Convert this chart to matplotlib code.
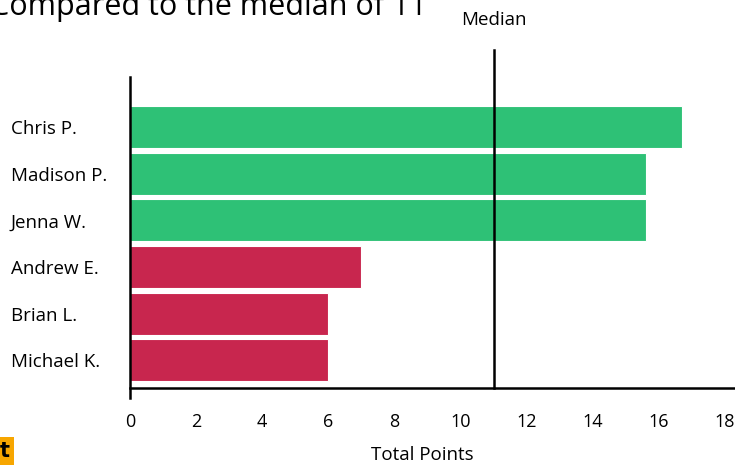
import matplotlib.pyplot as plt
import numpy as np

# data (top to bottom)
players = ["Chris P.", "Madison P.", "Jenna W.", "Andrew E.", "Brian L.", "Michael K."]
points = [16.7, 15.6, 15.6, 7, 6, 6]
median = 11
x_ticks = [0, 2, 4, 6, 8, 10, 12, 14, 16, 18]

GREEN = "#2ec176"
RED = "#c8264e"
colors = [GREEN if p > median else RED for p in points]

plt.rcParams.update({
    "font.family": ["Open Sans", "DejaVu Sans"],
    "font.size": 13,
})

fig = plt.figure(figsize=(7.35, 4.66), dpi=100)
ax = fig.add_axes([130 / 735, 78 / 466, 605 / 735, 311 / 466])

y = np.arange(len(players))[::-1]
ax.barh(y, points, height=0.9, color=colors, edgecolor="white", linewidth=0.8)

ax.set_xlim(0, 18.3)
ax.set_ylim(-0.59, 5.0 + 1.07)
ax.set_xticks(x_ticks)
ax.set_yticks(y)
ax.set_yticklabels(players, ha="left")
ax.tick_params(axis="x", length=0, pad=18, labelsize=13)
ax.tick_params(axis="y", length=0, pad=85.7, labelsize=13.5)

for s in ["top", "right"]:
    ax.spines[s].set_visible(False)
ax.spines["left"].set_linewidth(1.8)
ax.spines["bottom"].set_linewidth(1.8)
ax.spines["left"].set_bounds(-0.81, 6.07)

# median line sticks out above the plot
ax.plot([median, median], [-0.59, 6.65], color="black", lw=1.8, clip_on=False)
ax.text(median, 7.3, "Median", ha="center", va="center", fontsize=13.5)

ax.set_xlabel("Total Points", fontsize=13.5)
ax.xaxis.set_label_coords((422 - 130) / 605, -0.185)

# title is cropped at the top in the original screenshot
fig.text(-0.014, 1 - 6 / 466, "Compared to the median of 11", fontsize=22,
         ha="left", va="center")
fig.text(0.0, 15 / 466, "t", fontsize=15, fontweight="bold", ha="left", va="center",
         family="DejaVu Sans",
         bbox=dict(facecolor="#f7a600", edgecolor="none", pad=2.5))

fig.savefig("out.png", dpi=100)
